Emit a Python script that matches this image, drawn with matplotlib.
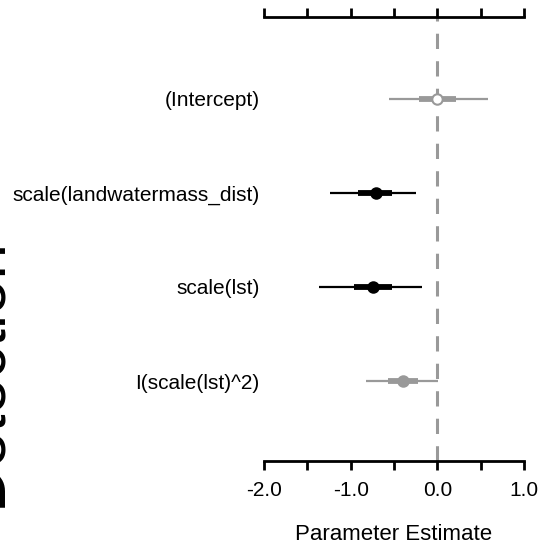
import matplotlib
matplotlib.use("Agg")
import matplotlib.pyplot as plt
import numpy as np

plt.rcParams["font.family"] = ["Liberation Sans", "DejaVu Sans"]

# coefficient summaries (top to bottom)
terms = ["(Intercept)", "scale(landwatermass_dist)", "scale(lst)", "I(scale(lst)^2)"]
est = [0.0, -0.71, -0.74, -0.40]
lo95 = [-0.56, -1.24, -1.36, -0.82]
hi95 = [0.58, -0.25, -0.18, 0.005]
lo50 = [-0.21, -0.92, -0.96, -0.57]
hi50 = [0.22, -0.52, -0.52, -0.22]
xticks = [-2.0, -1.5, -1.0, -0.5, 0.0, 0.5, 1.0]
xticklabels = ["-2.0", "", "-1.0", "", "0.0", "", "1.0"]

GRAY = "#999999"

fig = plt.figure(figsize=(5.43, 5.47), dpi=100)
ax = fig.add_axes([264 / 543, 1 - 461 / 547, 260 / 543, 444 / 547])

ypos = np.arange(len(terms))[::-1] + 1
ax.axvline(0, color=GRAY, lw=2.2, dashes=(5, 4), zorder=1)

for i, y in enumerate(ypos):
    # grey when the 95% interval reaches zero
    col = GRAY if hi95[i] >= 0 else "black"
    ax.hlines(y, lo95[i], hi95[i], color=col, lw=1.6, zorder=2)
    ax.hlines(y, lo50[i], hi50[i], color=col, lw=4.2, zorder=3)
    face = "white" if terms[i] == "(Intercept)" else col
    ax.plot(est[i], y, "o", ms=7.5, mfc=face, mec=col, mew=1.5, zorder=4)

ax.set_xlim(-2.0, 1.0)
ax.set_ylim(0.15, 4.87)
ax.set_yticks(ypos)
ax.set_yticklabels(terms, fontsize=15)
ax.tick_params(axis="y", length=0, pad=3)

ax.set_xticks(xticks)
ax.set_xticklabels(xticklabels, fontsize=15)
ax.tick_params(axis="x", which="both", direction="out", length=6.5, width=2,
               pad=8, top=True, labeltop=False)
ax.set_xlabel("Parameter Estimate", fontsize=16, labelpad=17)

for s in ["left", "right"]:
    ax.spines[s].set_visible(False)
for s in ["top", "bottom"]:
    ax.spines[s].set_linewidth(2)

fig.text(0.5 / 543, 1 - 372 / 547, "Detection", fontsize=46, rotation=90,
         rotation_mode="anchor", ha="center", va="baseline")

fig.savefig("out.png", dpi=100)
